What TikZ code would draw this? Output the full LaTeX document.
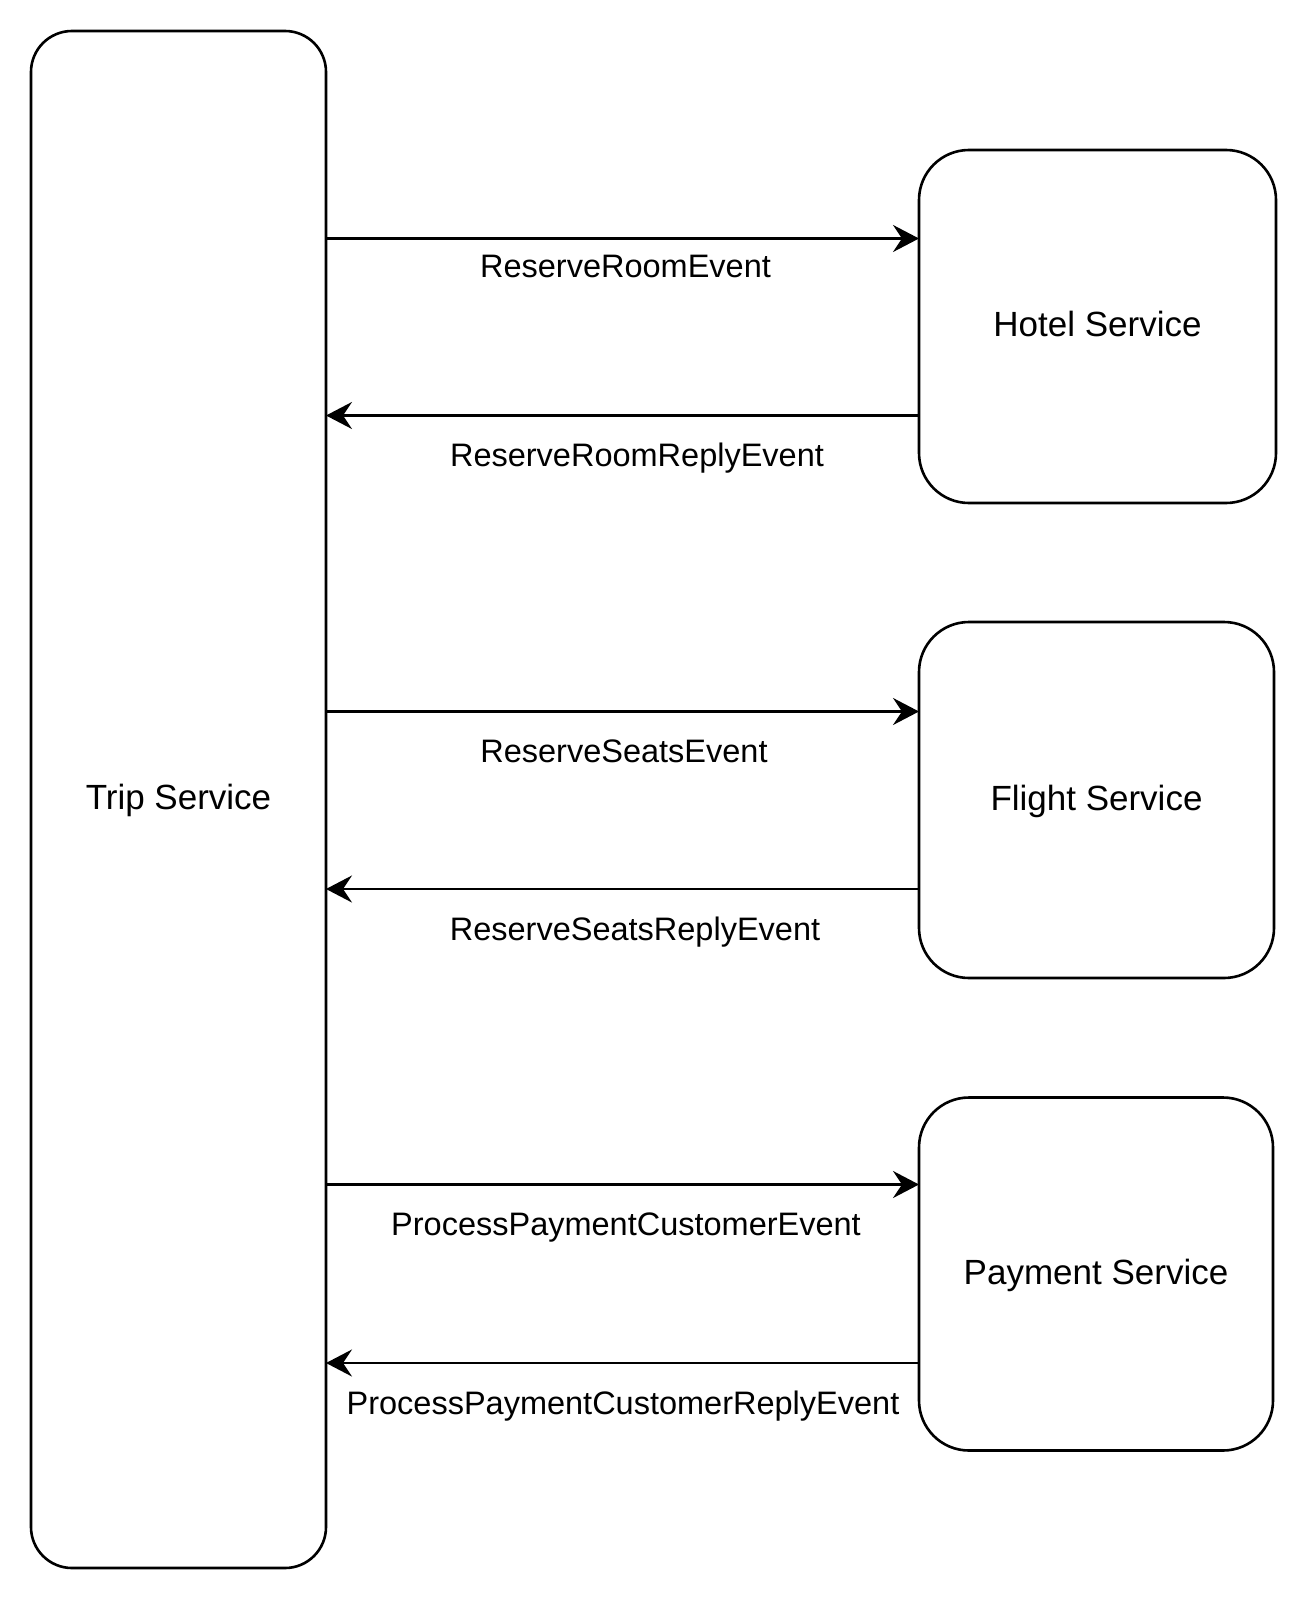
\documentclass[tikz,border=0pt]{standalone}
\usepackage{fontspec}
\setmainfont{Liberation Sans}
\usetikzlibrary{arrows.meta}
\begin{document}
\begin{tikzpicture}[x=0.5pt,y=-0.5pt,
  svc/.style={draw=black, line width=1.3pt, inner sep=0pt, outer sep=0pt,
    font=\fontsize{17.5}{21}\selectfont, text height=1.0em, text depth=0pt},
  arr/.style={line width=1.3pt, -{Stealth[length=13pt,width=13.5pt,inset=4.5pt]}},
  lbl/.style={font=\fontsize{16.25}{19.5}\selectfont, anchor=base, inner sep=0pt}
]
\useasboundingbox (0,0) rectangle (1307,1600);
\node[svc, rounded corners=20.5pt, minimum width=147.5pt, minimum height=768.5pt] (trip) at (178.5,799.5) {Trip Service};
\node[svc, rounded corners=25pt, minimum width=178.5pt, minimum height=176.5pt] (hotel) at (1097.5,326.5) {Hotel Service};
\node[svc, rounded corners=25pt, minimum width=177.5pt, minimum height=178pt] (flight) at (1096.5,800) {Flight Service};
\node[svc, rounded corners=25pt, minimum width=177pt, minimum height=176.5pt] (payment) at (1096,1274) {Payment Service};

\coordinate (y1) at (0,238.5);
\coordinate (y2) at (0,415.5);
\coordinate (y3) at (0,711.5);
\coordinate (y4) at (0,889);
\coordinate (y5) at (0,1184.5);
\coordinate (y6) at (0,1363);

\draw[arr] (trip.east |- y1) -- (hotel.west |- y1);
\draw[arr] (hotel.west |- y2) -- (trip.east |- y2);
\draw[arr] (trip.east |- y3) -- (flight.west |- y3);
\draw[arr] (flight.west |- y4) -- (trip.east |- y4);
\draw[arr] (trip.east |- y5) -- (payment.west |- y5);
\draw[arr] (payment.west |- y6) -- (trip.east |- y6);

\node[lbl] (l1) at (625.5,277.7) {ReserveRoomEvent};
\node[lbl] (l2) at (637,466.7) {ReserveRoomReplyEvent};
\node[lbl] (l3) at (624,762.7) {ReserveSeatsEvent};
\node[lbl] (l4) at (635,940) {ReserveSeatsReplyEvent};
\node[lbl] (l5) at (626,1235.5) {ProcessPaymentCustomerEvent};
\node[lbl] (l6) at (623,1414) {ProcessPaymentCustomerReplyEvent};
\end{tikzpicture}
\end{document}
